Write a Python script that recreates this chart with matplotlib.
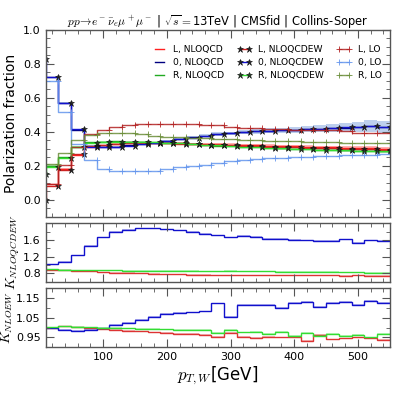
import numpy as np
import matplotlib
matplotlib.use("Agg")
import matplotlib.pyplot as plt
from matplotlib.ticker import MultipleLocator, FixedLocator

plt.rcParams['mathtext.fontset'] = 'cm'
plt.rcParams['font.family'] = ['DejaVu Sans']

# bin edges (GeV); main-panel points sit at the edges (steps-pre)
edges = np.arange(10, 551, 20)

# ---- polarization fractions (index 0 = left edge point, then one per bin)
L_QCD = [0.09, 0.09, 0.18, 0.265, 0.31, 0.32, 0.328, 0.333, 0.335, 0.335, 0.334, 0.332, 0.33, 0.328,
         0.326, 0.324, 0.322, 0.32, 0.318, 0.316, 0.314, 0.312, 0.31, 0.308, 0.306, 0.304, 0.302, 0.30]
Z_QCD = [0.72, 0.72, 0.57, 0.41, 0.315, 0.313, 0.313, 0.32, 0.33, 0.335, 0.347, 0.358, 0.368, 0.377,
         0.386, 0.39, 0.396, 0.402, 0.406, 0.409, 0.413, 0.416, 0.419, 0.422, 0.425, 0.428, 0.432, 0.43]
R_QCD = [0.2, 0.2, 0.25, 0.31, 0.338, 0.342, 0.343, 0.342, 0.34, 0.337, 0.334, 0.331, 0.327, 0.323,
         0.319, 0.316, 0.312, 0.308, 0.305, 0.302, 0.299, 0.297, 0.295, 0.293, 0.291, 0.289, 0.287, 0.286]
L_QCD_err = [0.004, 0.004, 0.004, 0.005, 0.005, 0.005, 0.005, 0.005, 0.005, 0.006, 0.006, 0.006, 0.006, 0.006,
             0.007, 0.007, 0.007, 0.007, 0.008, 0.008, 0.008, 0.009, 0.009, 0.01, 0.01, 0.011, 0.012, 0.012]
Z_QCD_err = [0.004, 0.004, 0.004, 0.005, 0.005, 0.005, 0.005, 0.005, 0.006, 0.006, 0.007, 0.008, 0.008, 0.009,
             0.01, 0.011, 0.012, 0.013, 0.014, 0.016, 0.018, 0.02, 0.02, 0.022, 0.024, 0.028, 0.035, 0.035]
R_QCD_err = [0.004, 0.004, 0.004, 0.004, 0.004, 0.004, 0.004, 0.004, 0.005, 0.005, 0.005, 0.005, 0.005, 0.005,
             0.006, 0.006, 0.006, 0.006, 0.006, 0.007, 0.007, 0.007, 0.007, 0.008, 0.008, 0.008, 0.009, 0.009]

L_EW = [0.00, 0.08, 0.175, 0.27, 0.315, 0.325, 0.33, 0.335, 0.335, 0.333, 0.332, 0.33, 0.327, 0.325,
        0.322, 0.32, 0.318, 0.316, 0.313, 0.311, 0.309, 0.306, 0.304, 0.302, 0.30, 0.298, 0.296, 0.294]
Z_EW = [0.83, 0.72, 0.57, 0.415, 0.312, 0.311, 0.31, 0.318, 0.328, 0.332, 0.345, 0.357, 0.366, 0.376,
        0.386, 0.391, 0.397, 0.403, 0.407, 0.409, 0.413, 0.417, 0.419, 0.423, 0.427, 0.431, 0.436, 0.43]
R_EW = [0.15, 0.19, 0.245, 0.31, 0.335, 0.34, 0.342, 0.342, 0.34, 0.338, 0.335, 0.332, 0.328, 0.324,
        0.32, 0.316, 0.312, 0.309, 0.306, 0.303, 0.3, 0.298, 0.295, 0.293, 0.291, 0.289, 0.287, 0.285]

L_LO = [0.09, 0.09, 0.205, 0.31, 0.385, 0.413, 0.427, 0.437, 0.443, 0.447, 0.447, 0.447, 0.446, 0.44,
        0.437, 0.431, 0.425, 0.42, 0.418, 0.415, 0.413, 0.411, 0.41, 0.408, 0.407, 0.39, 0.393, 0.395]
Z_LO = [0.70, 0.70, 0.518, 0.33, 0.234, 0.18, 0.167, 0.167, 0.168, 0.171, 0.18, 0.19, 0.2, 0.206,
        0.216, 0.226, 0.232, 0.238, 0.244, 0.248, 0.25, 0.254, 0.258, 0.26, 0.262, 0.264, 0.266, 0.268]
R_LO = [0.21, 0.21, 0.275, 0.35, 0.38, 0.39, 0.393, 0.39, 0.384, 0.378, 0.37, 0.367, 0.363, 0.361,
        0.358, 0.356, 0.351, 0.35, 0.348, 0.344, 0.343, 0.342, 0.34, 0.339, 0.336, 0.335, 0.334, 0.333]

# ---- K factors, one value per bin
K_EW_L = [0.87, 0.87, 0.86, 0.85, 0.83, 0.82, 0.81, 0.80, 0.79, 0.78, 0.78, 0.77, 0.77, 0.76,
          0.76, 0.76, 0.76, 0.75, 0.75, 0.75, 0.75, 0.75, 0.75, 0.74, 0.75, 0.74, 0.74]
K_EW_0 = [1.02, 1.08, 1.24, 1.46, 1.67, 1.80, 1.85, 1.88, 1.88, 1.86, 1.84, 1.80, 1.75, 1.72,
          1.67, 1.71, 1.68, 1.63, 1.63, 1.61, 1.60, 1.58, 1.58, 1.62, 1.53, 1.60, 1.58]
K_EW_R = [0.90, 0.89, 0.88, 0.88, 0.87, 0.87, 0.86, 0.86, 0.86, 0.86, 0.86, 0.86, 0.85, 0.85,
          0.86, 0.85, 0.85, 0.85, 0.84, 0.84, 0.84, 0.84, 0.84, 0.83, 0.83, 0.82, 0.82]

K_NLOEW_L = [0.998, 1.006, 1.001, 0.998, 0.994, 0.99, 0.984, 0.981, 0.976, 0.972, 0.97, 0.967, 0.964, 0.952,
             0.972, 0.953, 0.948, 0.952, 0.95, 0.953, 0.933, 0.962, 0.94, 0.945, 0.95, 0.945, 0.938]
K_NLOEW_0 = [0.996, 0.99, 0.984, 0.988, 0.996, 1.015, 1.025, 1.039, 1.056, 1.07, 1.075, 1.078, 1.083, 1.123,
             1.053, 1.116, 1.116, 1.114, 1.10, 1.124, 1.131, 1.107, 1.124, 1.131, 1.114, 1.135, 1.126]
K_NLOEW_R = [1.001, 1.006, 1.003, 1.001, 1.0, 0.998, 0.996, 0.994, 0.993, 0.991, 0.99, 0.99, 0.988, 0.972,
             0.99, 0.976, 0.977, 0.97, 0.977, 0.959, 0.972, 0.959, 0.967, 0.959, 0.962, 0.95, 0.967]

c_qcd = {'L': '#ff2020', '0': '#000080', 'R': '#22aa22'}
c_ew = {'L': '#cc2222', '0': '#1010cc', 'R': '#33dd33'}
c_lo = {'L': '#b22222', '0': '#6495ed', 'R': '#6b8e3a'}
spine_c = '#555555'

fig = plt.figure(figsize=(3.99, 3.99), dpi=100)
ax1 = fig.add_axes([0.1145, 0.457, 0.8625, 0.468])
ax2 = fig.add_axes([0.1145, 0.294, 0.8625, 0.146])
ax3 = fig.add_axes([0.1145, 0.1296, 0.8625, 0.1478])

# main panel
for lab, y, e in [('L', L_QCD, L_QCD_err), ('0', Z_QCD, Z_QCD_err), ('R', R_QCD, R_QCD_err)]:
    y = np.array(y); e = np.array(e)
    ax1.fill_between(edges, y - e, y + e, step='pre', color=c_qcd[lab] if lab != '0' else '#4477cc',
                     alpha=0.35, lw=0)
    ax1.plot(edges, y, drawstyle='steps-pre', color=c_qcd[lab], lw=1.0, label=f'{lab}, NLOQCD')
for lab, y in [('L', L_EW), ('0', Z_EW), ('R', R_EW)]:
    ax1.plot(edges, y, drawstyle='steps-pre', color=c_ew[lab], lw=1.0, marker='*', ms=4.5,
             mfc='#222222' if lab != 'R' else '#224422', mec='#111111', mew=0.4,
             label=f'{lab}, NLOQCDEW')
for lab, y in [('L', L_LO), ('0', Z_LO), ('R', R_LO)]:
    ax1.plot(edges, y, drawstyle='steps-pre', color=c_lo[lab], lw=1.0, marker='+', ms=5, mew=0.7,
             alpha=0.85, label=f'{lab}, LO')

ax1.set_xlim(10, 550)
ax1.set_ylim(-0.1, 1.0)
ax1.yaxis.set_major_locator(FixedLocator([0.0, 0.2, 0.4, 0.6, 0.8, 1.0]))
ax1.yaxis.set_minor_locator(MultipleLocator(0.05))
ax1.set_ylabel('Polarization fraction', fontsize=10)
ax1.set_title(r'$pp\!\rightarrow\! e^-\bar{\nu}_e\mu^+\mu^-$ | $\sqrt{s}=$13TeV | CMSfid | Collins-Soper',
              fontsize=8.3, pad=2)
ax1.legend(loc='upper right', ncol=3, frameon=False, fontsize=6.6, handlelength=1.6,
           columnspacing=1.4, handletextpad=0.7, labelspacing=0.45, numpoints=2,
           bbox_to_anchor=(1.0, 0.965))
ax1.set_xticklabels([])

# middle K panel
for lab, k in [('L', K_EW_L), ('0', K_EW_0), ('R', K_EW_R)]:
    k = np.array(k)
    ax2.fill_between(edges, np.append(k, k[-1]) - 0.012, np.append(k, k[-1]) + 0.012,
                     step='post', color=c_ew[lab], alpha=0.3, lw=0)
    ax2.stairs(k, edges, color=c_ew[lab] if lab != 'L' else '#dd3333', lw=1.0, baseline=None)
ax2.set_xlim(10, 550)
ax2.set_ylim(0.6, 2.0)
ax2.yaxis.set_major_locator(FixedLocator([0.8, 1.2, 1.6]))
ax2.yaxis.set_minor_locator(MultipleLocator(0.2))
ax2.set_ylabel(r'$K_{NLOQCDEW}$', fontsize=10, labelpad=1)
ax2.set_xticklabels([])

# bottom K panel
for lab, k in [('L', K_NLOEW_L), ('0', K_NLOEW_0), ('R', K_NLOEW_R)]:
    k = np.array(k)
    ax3.fill_between(edges, np.append(k, k[-1]) - 0.004, np.append(k, k[-1]) + 0.004,
                     step='post', color=c_ew[lab], alpha=0.3, lw=0)
    ax3.stairs(k, edges, color=c_ew[lab] if lab != 'L' else '#dd3333', lw=1.0, baseline=None)
ax3.set_xlim(10, 550)
ax3.set_ylim(0.9, 1.2)
ax3.yaxis.set_major_locator(FixedLocator([0.95, 1.05, 1.15]))
ax3.yaxis.set_minor_locator(MultipleLocator(0.05))
ax3.set_ylabel(r'$K_{NLOEW}$', fontsize=10, labelpad=1)
ax3.set_xlabel(r'$p_{T,W}$[GeV]', fontsize=12, labelpad=2)

for ax in (ax1, ax2, ax3):
    ax.xaxis.set_major_locator(FixedLocator([100, 200, 300, 400, 500]))
    ax.xaxis.set_minor_locator(MultipleLocator(20))
    ax.tick_params(which='both', direction='in', top=True, right=True, color=spine_c, labelsize=8)
    ax.tick_params(which='major', length=6, width=0.8)
    ax.tick_params(which='minor', length=3, width=0.6)
    for s in ax.spines.values():
        s.set_color(spine_c)
        s.set_linewidth(1.0)

fig.savefig('out.png', dpi=100)
